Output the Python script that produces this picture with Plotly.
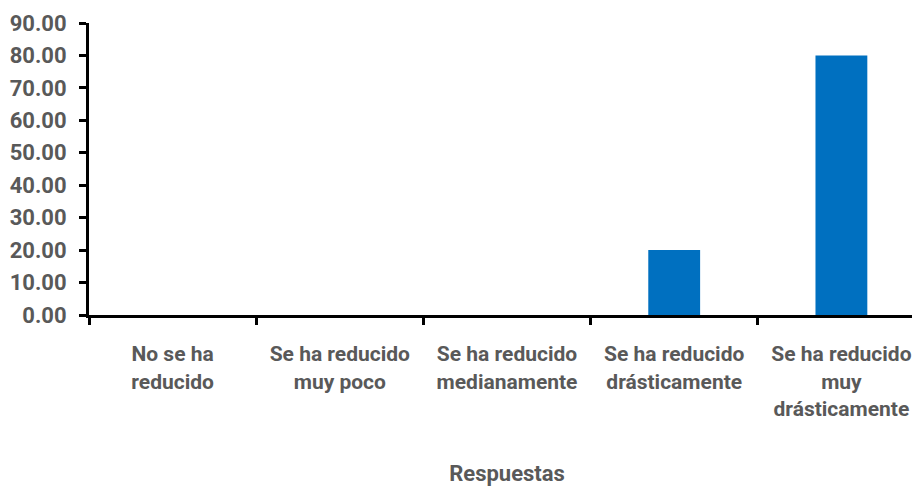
import plotly.graph_objects as go

categories = ["No se ha<br>reducido", "Se ha reducido<br>muy poco", "Se ha reducido<br>medianamente",
              "Se ha reducido<br>drásticamente", "Se ha reducido<br>muy<br>drásticamente"]
values = [0, 0, 0, 20, 80]
y_ticks = [0, 10, 20, 30, 40, 50, 60, 70, 80, 90]

FONT = "Roboto, sans-serif"
GRAY = "#595959"

fig = go.Figure(go.Bar(x=categories, y=values, marker=dict(color="#0070C0", line=dict(width=0)),
                       width=0.31))
fig.update_layout(
    width=920, height=489,
    margin=dict(l=81, r=3, t=15, b=182),
    plot_bgcolor="white", paper_bgcolor="white",
    showlegend=False,
    font=dict(family=FONT, color=GRAY),
)
fig.update_xaxes(
    type="category", tickson="boundaries", ticks="outside", ticklen=7, tickwidth=3, tickcolor="black",
    showline=True, linecolor="black", linewidth=3, showgrid=False, automargin=False,
    tickfont=dict(family=FONT, size=21, color=GRAY, weight="bold"), ticklabelstandoff=18,
    title=dict(text="<b>Respuestas</b>", font=dict(family=FONT, size=22, color=GRAY), standoff=46),
)
fig.update_yaxes(
    range=[0, 90], tickvals=y_ticks, tickformat=".2f", ticks="outside", ticklen=7, tickwidth=3,
    tickcolor="black", showline=True, linecolor="black", linewidth=3, showgrid=False, zeroline=False,
    automargin=False,
    tickfont=dict(family=FONT, size=22, color=GRAY, weight="bold"), ticklabelstandoff=8,
)
fig.write_html("out.html")
